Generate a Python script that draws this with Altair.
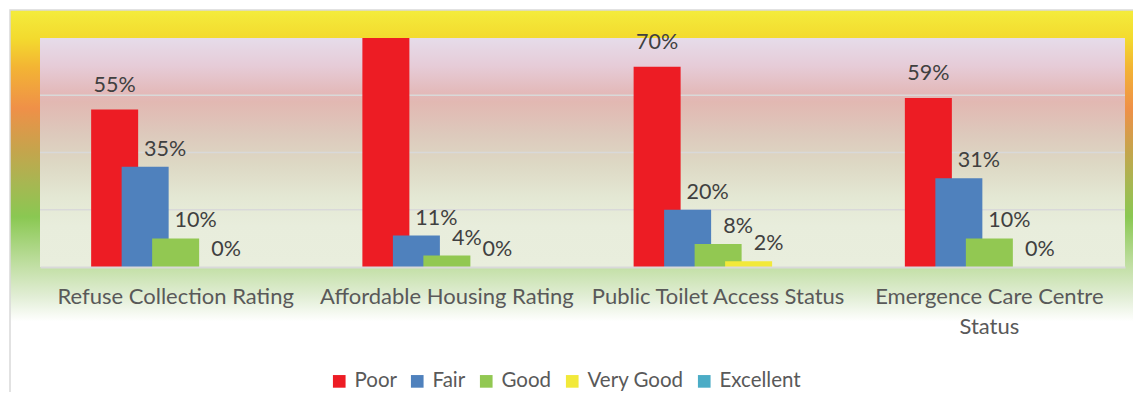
import altair as alt
import pandas as pd

categories = ["Refuse Collection Rating", "Affordable Housing Rating",
              "Public Toilet Access Status", "Emergence Care Centre Status"]
series = ["Poor", "Fair", "Good", "Very Good", "Excellent"]
poor = [55, 85, 70, 59]
fair = [35, 11, 20, 31]
good = [10, 4, 8, 10]
very_good = [0, 0, 2, 0]
excellent = [None, None, None, None]
colors = ["#ED1C24", "#4F81BD", "#92C852", "#F2E93A", "#4BACC6"]
grid_values = [20, 40, 60]
y_max = 80

FONT = "Lato"
W, H = 1085, 229

rows = []
for s, vals in zip(series, [poor, fair, good, very_good, excellent]):
    for c, v in zip(categories, vals):
        rows.append({"category": c, "series": s, "value": v})
df = pd.DataFrame(rows)
grid_df = pd.DataFrame({"value": grid_values})
one = pd.DataFrame({"a": [0]})

y_scale = alt.Scale(domain=[0, y_max], nice=False, zero=True)
x_scale = alt.Scale(paddingInner=0.4378, paddingOuter=0.219)
xo_scale = alt.Scale(domain=series, paddingInner=0, paddingOuter=0)

outer_grad = alt.Gradient(
    gradient="linear", x1=0, x2=0, y1=0, y2=1,
    stops=[
        alt.GradientStop(color="#F4EC3C", offset=0.0),
        alt.GradientStop(color="#F3DA2E", offset=0.07),
        alt.GradientStop(color="#F3B434", offset=0.14),
        alt.GradientStop(color="#EF9048", offset=0.24),
        alt.GradientStop(color="#C6A44C", offset=0.34),
        alt.GradientStop(color="#A8B652", offset=0.42),
        alt.GradientStop(color="#8AC852", offset=0.505),
        alt.GradientStop(color="#C4E0A8", offset=0.63),
        alt.GradientStop(color="#E2EED6", offset=0.70),
        alt.GradientStop(color="#FFFFFF", offset=0.76),
        alt.GradientStop(color="#FFFFFF", offset=1.0),
    ],
)
plot_grad = alt.Gradient(
    gradient="linear", x1=0, x2=0, y1=0, y2=1,
    stops=[
        alt.GradientStop(color="#E6DCEA", offset=0.0),
        alt.GradientStop(color="#E6CCD8", offset=0.12),
        alt.GradientStop(color="#E3B9B9", offset=0.24),
        alt.GradientStop(color="#E2B8B2", offset=0.28),
        alt.GradientStop(color="#DDC9BC", offset=0.42),
        alt.GradientStop(color="#DDD8C4", offset=0.55),
        alt.GradientStop(color="#E4E8D4", offset=0.70),
        alt.GradientStop(color="#E8EDDC", offset=0.82),
        alt.GradientStop(color="#E9EEDD", offset=1.0),
    ],
)

outer_bg = alt.Chart(one).mark_rect(fill=outer_grad, stroke="#D9D9D9", strokeWidth=1.5).encode(
    x=alt.value(-30), x2=alt.value(W + 30), y=alt.value(-28), y2=alt.value(H + 153)
)
plot_bg = alt.Chart(one).mark_rect(fill=plot_grad).encode(
    x=alt.value(0), x2=alt.value(W), y=alt.value(0), y2=alt.value(H)
)
grid = alt.Chart(grid_df).mark_rule(color="#D9D9D9", strokeWidth=1.5).encode(
    y=alt.Y("value:Q", scale=y_scale, axis=None)
)

x_enc = alt.X(
    "category:N", sort=categories, scale=x_scale,
    axis=alt.Axis(
        title=None, labelFontSize=22, labelFont=FONT, labelColor="#595959",
        labelAngle=0, ticks=False, domainColor="#D9D9D9", domainWidth=2,
        labelPadding=19, labelLineHeight=30, labelLimit=400, grid=False, zindex=1,
        labelExpr="datum.label == 'Emergence Care Centre Status' ? ['Emergence Care Centre', 'Status'] : datum.label",
    ),
)
xo_enc = alt.XOffset("series:N", sort=series, scale=xo_scale)
y_enc = alt.Y("value:Q", scale=y_scale, axis=None)

bars = alt.Chart(df).mark_bar(size=47, clip=True).encode(
    x=x_enc, xOffset=xo_enc, y=y_enc,
    color=alt.Color(
        "series:N", sort=series,
        scale=alt.Scale(domain=series, range=colors),
        legend=alt.Legend(
            orient="none", legendX=289, legendY=333, direction="horizontal",
            title=None, symbolType="square", symbolSize=160, symbolStrokeWidth=0,
            labelFontSize=20.5, labelFont=FONT, labelColor="#595959",
            labelOffset=5, columnPadding=10,
        ),
    ),
)

label_base = alt.Chart(df).transform_filter(
    "datum.value != null && datum.value <= %d" % y_max
).transform_calculate(label="datum.value + '%'")

labels_poor = label_base.transform_filter("datum.series == 'Poor'").mark_text(
    dy=-18, baseline="alphabetic", fontSize=21.5, font=FONT, color="#404040"
).encode(x=x_enc, xOffset=xo_enc, y=y_enc, text="label:N")

labels_other = label_base.transform_filter("datum.series != 'Poor'").mark_text(
    dx=20, dy=-11, baseline="alphabetic", fontSize=21.5, font=FONT, color="#404040"
).encode(x=x_enc, xOffset=xo_enc, y=y_enc, text="label:N")

chart = alt.layer(outer_bg, plot_bg, grid, bars, labels_poor, labels_other).properties(
    width=W, height=H,
    autosize=alt.AutoSizeParams(type="none"),
    padding={"left": 32, "top": 30, "right": 8, "bottom": 125},
    background="white",
).configure_view(stroke=None)

chart.save("out.html", embed_options={"renderer": "svg", "actions": False})
